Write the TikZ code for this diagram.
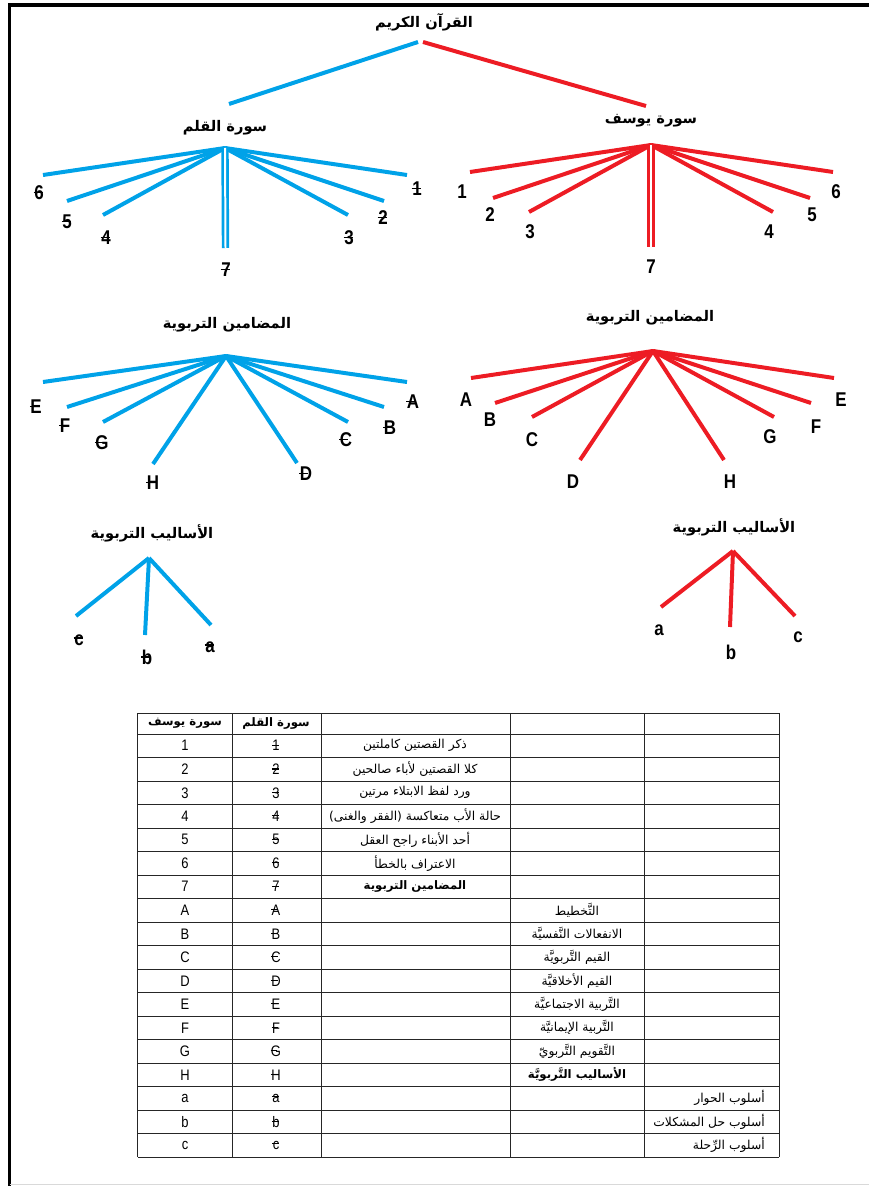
\documentclass[tikz,border=0pt]{standalone}
\usepackage{fontspec}
\setmainfont[FakeStretch=0.85]{Liberation Sans}
\newfontfamily\arabicfont[Script=Arabic]{DejaVu Sans}
\TeXXeTstate=1
\usepackage{xcolor}
\definecolor{qblue}{HTML}{00A2E8}
\definecolor{yred}{HTML}{ED1C24}
\newcommand{\artext}[1]{{\arabicfont\beginR #1\endR}}
\newcommand{\struck}[1]{\makebox[0pt][l]{\hspace{-0.03em}\raisebox{0.33em}{\rule{0.45em}{0.07em}}}#1}
\tikzstyle{title} = [inner sep=0pt, 
font=\bfseries\fontsize{12.5}{14}\selectfont]
\tikzstyle{leaf} = [inner sep=0pt, 
font=\bfseries\fontsize{17}{19}\selectfont]
\tikzstyle{blueline} = [draw=qblue, line width=3.4pt]
\tikzstyle{redline} = [draw=yred, line width=3.4pt]
\tikzstyle{seven} = [double=white, line width=2.3pt, double distance=1.7pt]
\tikzstyle{tableline} = [draw=black!85, line width=0.6pt]
\tikzstyle{cell} = [inner sep=0pt, 
font=\fontsize{13}{15}\selectfont]
\tikzstyle{arcell} = [inner sep=0pt, 
font=\fontsize{10.5}{12}\selectfont]
\tikzstyle{arbold} = [inner sep=0pt, 
font=\bfseries\fontsize{10}{12}\selectfont]

\begin{document}
\begin{tikzpicture}[x=0.03cm, y=-0.03cm]
\useasboundingbox (0,0) rectangle (869,1186);

% frame
\draw [line width=0.11cm] (9.5,1186) -- (9.5,5) -- (869,5);
\draw [black!15, line width=0.04cm] (9.5,1184.5) -- (869,1184.5);

% root
\node (root) [title] at (424,22) {\artext{القرآن الكريم}};
\coordinate (rootl) at (418,42);
\coordinate (rootr) at (423,42);
\coordinate (qtop) at (229,104);
\coordinate (ytop) at (646,106);
\draw [blueline] (rootl) -- (qtop);
\draw [redline] (rootr) -- (ytop);

% surat al-qalam
\node (qalam) [title] at (225,128) {\artext{سورة القلم}};
\coordinate (qhub) at (225,148);
\foreach \n/\ex/\ey/\lx/\ly in {1/407/175/417/189, 2/384/201/383/218, 3/348/215/349/238,
  4/103/215/106/238, 5/67/201/67/222, 6/43/175/39/193} {
  \coordinate (q\n) at (\ex,\ey);
  \node (lq\n) [leaf] at (\lx,\ly) {\struck{\n}};
  \draw [blueline] (qhub) -- (q\n);
}
\coordinate (q7) at (225.5,248);
\node (lq7) [leaf] at (226,270) {\struck{7}};
\draw [blueline, seven] (qhub) -- (q7);

% surat yusuf
\node (yusuf) [title] at (651,121) {\artext{سورة يوسف}};
\coordinate (yhub) at (651,145);
\foreach \n/\ex/\ey/\lx/\ly in {1/470/172/462/192, 2/493/198/490/215, 3/529/212/530/232,
  4/773/212/769/232, 5/810/198/812/215, 6/833/172/836/192} {
  \coordinate (y\n) at (\ex,\ey);
  \node (ly\n) [leaf] at (\lx,\ly) {\n};
  \draw [redline] (yhub) -- (y\n);
}
\coordinate (y7) at (651,247);
\node (ly7) [leaf] at (651,267) {7};
\draw [redline, seven] (yhub) -- (y7);

% educational contents
\node (qmid) [title] at (227,325) {\artext{المضامين التربوية}};
\coordinate (qmhub) at (226,356);
\foreach \n/\ex/\ey/\lx/\ly in {A/407/382/413/402, B/384/407/390/428, C/348/422/346/440,
  D/297/463/306/474, E/43/382/36/407, F/67/407/65/426, G/103/422/102/443, H/153/464/153/483} {
  \coordinate (qm\n) at (\ex,\ey);
  \node (lqm\n) [leaf] at (\lx,\ly) {\struck{\n}};
  \draw [blueline] (qmhub) -- (qm\n);
}
\node (ymid) [title] at (650,318) {\artext{المضامين التربوية}};
\coordinate (ymhub) at (653,351);
\foreach \n/\ex/\ey/\lx/\ly in {A/471/378/466/400, B/495/403/490/420, C/532/417/532/440,
  D/580/460/573/482, E/834/378/841/400, F/811/403/816/427, G/774/417/770/437, H/724/460/730/482} {
  \coordinate (ym\n) at (\ex,\ey);
  \node (lym\n) [leaf] at (\lx,\ly) {\n};
  \draw [redline] (ymhub) -- (ym\n);
}

% educational methods
\node (qlow) [title] at (152,533) {\artext{الأساليب التربوية}};
\coordinate (qlhub) at (149,558);
\foreach \n/\ex/\ey/\lx/\ly in {a/211/625/210/647, b/145/635/147/657, c/76/616/79/640} {
  \coordinate (ql\n) at (\ex,\ey);
  \node (lql\n) [leaf] at (\lx,\ly) {\struck{\n}};
  \draw [blueline] (qlhub) -- (ql\n);
}
\node (ylow) [title] at (734,527) {\artext{الأساليب التربوية}};
\coordinate (ylhub) at (733,551);
\foreach \n/\ex/\ey/\lx/\ly in {a/661/607/659/630, b/730/627/731/652, c/795/616/798/637} {
  \coordinate (yl\n) at (\ex,\ey);
  \node (lyl\n) [leaf] at (\lx,\ly) {\n};
  \draw [redline] (ylhub) -- (yl\n);
}

% table
\draw [tableline] (137.5,713) -- (779,713);
\foreach \k in {0,...,18}
  \draw [tableline] (137.5,{734+23.5*\k}) -- (779,{734+23.5*\k});
\foreach \xx in {137.5,232,321,510,644.5,779}
  \draw [tableline] (\xx,713) -- (\xx,1157);
\node (head1) [arbold] at (185,723.5) {\artext{سورة يوسف}};
\node (head2) [arbold] at (276,723.5) {\artext{سورة القلم}};
\foreach \k/\s in {1/1,2/2,3/3,4/4,5/5,6/6,7/7,8/A,9/B,10/C,11/D,12/E,13/F,14/G,15/H,16/a,17/b,18/c} {
  \node (ycell\k) [cell] at (185,{722.25+23.5*\k}) {\s};
  \node (qcell\k) [cell] at (276,{722.25+23.5*\k}) {\struck{\s}};
}
\node (t1) [arcell] at (415,745.75) {\artext{ذكر القصتين كاملتين}};
\node (t2) [arcell] at (415,769.25) {\artext{كلا القصتين لأباء صالحين}};
\node (t3) [arcell] at (415,792.75) {\artext{ورد لفظ الابتلاء مرتين}};
\node (t4) [arcell] at (415,816.25) {\artext{حالة الأب متعاكسة (الفقر والغنى)}};
\node (t5) [arcell] at (415,839.75) {\artext{أحد الأبناء راجح العقل}};
\node (t6) [arcell] at (415,863.25) {\artext{الاعتراف بالخطأ}};
\node (t7) [arbold] at (415,886.75) {\artext{المضامين التربوية}};
\node (tA) [arcell] at (577,910.25) {\artext{التَّخطيط}};
\node (tB) [arcell] at (577,933.75) {\artext{الانفعالات النَّفسيَّة}};
\node (tC) [arcell] at (577,957.25) {\artext{القيم التَّربويَّة}};
\node (tD) [arcell] at (577,980.75) {\artext{القيم الأخلاقيَّة}};
\node (tE) [arcell] at (577,1004.25) {\artext{التَّربية الاجتماعيَّة}};
\node (tF) [arcell] at (577,1027.75) {\artext{التَّربية الإيمانيَّة}};
\node (tG) [arcell] at (577,1051.25) {\artext{التَّقويم التَّربويّ}};
\node (tH) [arbold] at (577,1074.75) {\artext{الأساليب التَّربويَّة}};
\node (ta) [arcell, anchor=east] at (765,1098.25) {\artext{أسلوب الحوار}};
\node (tb) [arcell, anchor=east] at (765,1121.75) {\artext{أسلوب حل المشكلات}};
\node (tc) [arcell, anchor=east] at (765,1145.25) {\artext{أسلوب الرِّحلة}};

\end{tikzpicture}
\end{document}
